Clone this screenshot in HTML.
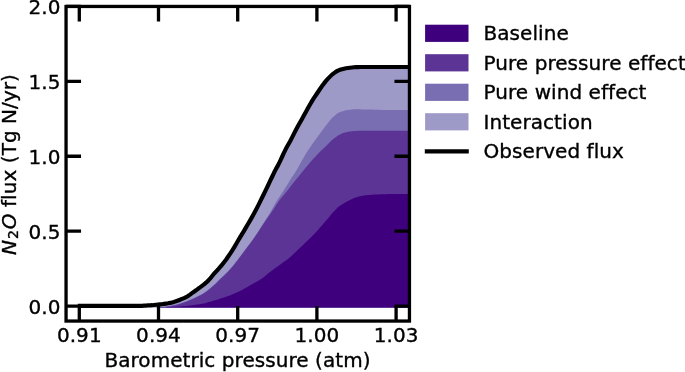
<!DOCTYPE html>
<html><head><meta charset="utf-8"><title>N2O flux</title>
<style>html,body{margin:0;padding:0;background:#fff}svg{display:block}text{font-variant-ligatures:none;font-family:"DejaVu Sans","Liberation Sans",sans-serif;font-size:20px;letter-spacing:0.06px;fill:#000;stroke:#000;stroke-width:0.35px}</style></head><body>
<svg width="685" height="372" viewBox="0 0 685 372">
<rect width="685" height="372" fill="#fff"/>
<defs><clipPath id="ax"><rect x="66.05" y="6.45" width="343.40" height="314.60"/></clipPath></defs>
<g clip-path="url(#ax)">
<path d="M150.0,307.5 L150.0,305.3 L152.0,305.2 L154.0,305.0 L156.0,304.8 L158.0,304.6 L160.0,304.4 L162.0,304.2 L164.0,303.9 L166.0,303.6 L168.0,303.3 L170.0,302.9 L172.0,302.4 L174.0,301.9 L176.0,301.2 L178.0,300.5 L180.0,299.7 L182.0,298.9 L184.0,298.1 L186.0,297.2 L188.0,296.0 L190.0,294.6 L192.0,293.1 L194.0,291.7 L196.0,290.3 L198.0,288.8 L200.0,287.4 L202.0,285.9 L204.0,284.4 L206.0,282.7 L208.0,280.9 L210.0,278.7 L212.0,276.2 L214.0,273.7 L216.0,271.6 L218.0,269.5 L220.0,267.2 L222.0,264.8 L224.0,262.3 L226.0,259.7 L228.0,256.8 L230.0,253.9 L232.0,250.8 L234.0,247.6 L236.0,244.2 L238.0,240.8 L240.0,237.4 L242.0,234.1 L244.0,230.8 L246.0,227.4 L248.0,224.0 L250.0,220.6 L252.0,217.1 L254.0,213.5 L256.0,209.8 L258.0,205.9 L260.0,201.8 L262.0,197.8 L264.0,193.8 L266.0,189.7 L268.0,185.5 L270.0,181.2 L272.0,177.0 L274.0,172.8 L276.0,168.9 L278.0,165.4 L280.0,161.3 L282.0,157.0 L284.0,152.6 L286.0,148.6 L288.0,145.0 L290.0,141.5 L292.0,137.6 L294.0,133.6 L296.0,129.8 L298.0,126.1 L300.0,122.5 L302.0,118.9 L304.0,115.3 L306.0,111.7 L308.0,108.1 L310.0,104.5 L312.0,101.1 L314.0,97.9 L316.0,95.0 L318.0,92.0 L320.0,89.0 L322.0,86.1 L324.0,83.4 L326.0,80.9 L328.0,78.6 L330.0,76.6 L332.0,74.6 L334.0,73.1 L336.0,71.7 L338.0,70.6 L340.0,69.8 L342.0,69.2 L344.0,68.7 L346.0,68.3 L348.0,68.0 L350.0,67.7 L352.0,67.5 L354.0,67.3 L356.0,67.1 L358.0,67.1 L360.0,67.0 L362.0,67.0 L364.0,67.0 L366.0,67.0 L368.0,67.0 L370.0,67.0 L372.0,67.0 L374.0,67.0 L376.0,67.0 L378.0,67.0 L380.0,67.0 L382.0,67.0 L384.0,67.0 L386.0,67.0 L388.0,67.0 L390.0,67.0 L392.0,67.0 L394.0,67.0 L396.0,67.0 L398.0,67.0 L400.0,67.0 L402.0,67.0 L404.0,67.0 L406.0,67.0 L408.0,67.0 L410.0,67.0 L412.0,67.0 L412.0,307.5 Z" fill="#9e9ac8"/>
<path d="M150.0,307.5 L150.0,307.5 L152.0,307.5 L154.0,307.4 L156.0,307.3 L158.0,307.2 L160.0,307.1 L162.0,306.9 L164.0,306.7 L166.0,306.4 L168.0,306.1 L170.0,305.8 L172.0,305.4 L174.0,305.0 L176.0,304.5 L178.0,303.9 L180.0,303.3 L182.0,302.7 L184.0,302.0 L186.0,301.3 L188.0,300.5 L190.0,299.6 L192.0,298.8 L194.0,297.9 L196.0,297.0 L198.0,296.0 L200.0,295.0 L202.0,293.9 L204.0,292.7 L206.0,291.3 L208.0,289.8 L210.0,288.2 L212.0,286.6 L214.0,284.8 L216.0,282.9 L218.0,280.8 L220.0,278.8 L222.0,277.0 L224.0,275.1 L226.0,273.1 L228.0,271.2 L230.0,269.0 L232.0,266.7 L234.0,264.3 L236.0,261.8 L238.0,259.2 L240.0,256.5 L242.0,253.7 L244.0,251.0 L246.0,248.4 L248.0,245.8 L250.0,243.2 L252.0,240.4 L254.0,237.6 L256.0,234.7 L258.0,231.7 L260.0,228.6 L262.0,225.5 L264.0,222.4 L266.0,219.2 L268.0,216.0 L270.0,212.7 L272.0,209.3 L274.0,205.7 L276.0,202.2 L278.0,199.1 L280.0,196.1 L282.0,193.1 L284.0,190.0 L286.0,186.7 L288.0,183.4 L290.0,180.2 L292.0,177.1 L294.0,174.2 L296.0,171.1 L298.0,167.8 L300.0,164.1 L302.0,160.5 L304.0,157.0 L306.0,153.6 L308.0,150.5 L310.0,147.5 L312.0,144.6 L314.0,141.8 L316.0,139.0 L318.0,136.2 L320.0,133.4 L322.0,130.7 L324.0,128.0 L326.0,125.4 L328.0,122.9 L330.0,120.3 L332.0,118.0 L334.0,116.2 L336.0,114.5 L338.0,113.1 L340.0,112.1 L342.0,111.4 L344.0,110.8 L346.0,110.3 L348.0,109.9 L350.0,109.7 L352.0,109.4 L354.0,109.3 L356.0,109.3 L358.0,109.3 L360.0,109.3 L362.0,109.4 L364.0,109.4 L366.0,109.4 L368.0,109.5 L370.0,109.6 L372.0,109.6 L374.0,109.7 L376.0,109.7 L378.0,109.8 L380.0,109.8 L382.0,109.9 L384.0,109.9 L386.0,109.9 L388.0,109.9 L390.0,110.0 L392.0,110.0 L394.0,110.0 L396.0,110.0 L398.0,110.0 L400.0,110.1 L402.0,110.1 L404.0,110.1 L406.0,110.1 L408.0,110.1 L410.0,110.1 L412.0,110.1 L412.0,307.5 Z" fill="#796eb2"/>
<path d="M150.0,307.5 L150.0,307.5 L152.0,307.5 L154.0,307.5 L156.0,307.4 L158.0,307.4 L160.0,307.3 L162.0,307.1 L164.0,307.0 L166.0,306.7 L168.0,306.5 L170.0,306.2 L172.0,305.8 L174.0,305.5 L176.0,305.0 L178.0,304.5 L180.0,303.9 L182.0,303.3 L184.0,302.6 L186.0,301.9 L188.0,301.1 L190.0,300.2 L192.0,299.4 L194.0,298.5 L196.0,297.6 L198.0,296.6 L200.0,295.6 L202.0,294.5 L204.0,293.3 L206.0,291.9 L208.0,290.4 L210.0,288.8 L212.0,287.1 L214.0,285.3 L216.0,283.5 L218.0,281.5 L220.0,279.5 L222.0,277.6 L224.0,275.7 L226.0,273.8 L228.0,271.8 L230.0,269.6 L232.0,267.3 L234.0,264.9 L236.0,262.3 L238.0,259.7 L240.0,257.1 L242.0,254.4 L244.0,251.7 L246.0,249.0 L248.0,246.3 L250.0,243.7 L252.0,241.0 L254.0,238.2 L256.0,235.3 L258.0,232.3 L260.0,229.2 L262.0,226.1 L264.0,223.0 L266.0,220.1 L268.0,217.2 L270.0,214.4 L272.0,211.5 L274.0,208.5 L276.0,205.3 L278.0,202.3 L280.0,199.6 L282.0,197.1 L284.0,194.7 L286.0,192.2 L288.0,189.7 L290.0,187.2 L292.0,184.6 L294.0,182.1 L296.0,179.6 L298.0,177.2 L300.0,174.7 L302.0,172.2 L304.0,169.7 L306.0,167.3 L308.0,164.9 L310.0,162.5 L312.0,160.2 L314.0,158.0 L316.0,155.9 L318.0,153.8 L320.0,151.8 L322.0,149.8 L324.0,148.0 L326.0,146.1 L328.0,144.0 L330.0,141.9 L332.0,140.0 L334.0,138.4 L336.0,136.9 L338.0,135.6 L340.0,134.5 L342.0,133.6 L344.0,132.8 L346.0,132.2 L348.0,131.7 L350.0,131.4 L352.0,131.2 L354.0,131.0 L356.0,130.9 L358.0,130.8 L360.0,130.8 L362.0,130.7 L364.0,130.7 L366.0,130.7 L368.0,130.7 L370.0,130.7 L372.0,130.7 L374.0,130.7 L376.0,130.7 L378.0,130.7 L380.0,130.7 L382.0,130.7 L384.0,130.7 L386.0,130.7 L388.0,130.7 L390.0,130.7 L392.0,130.7 L394.0,130.7 L396.0,130.7 L398.0,130.7 L400.0,130.7 L402.0,130.7 L404.0,130.7 L406.0,130.7 L408.0,130.7 L410.0,130.7 L412.0,130.7 L412.0,307.5 Z" fill="#5b3495"/>
<path d="M150.0,307.5 L150.0,307.5 L152.0,307.5 L154.0,307.5 L156.0,307.4 L158.0,307.4 L160.0,307.3 L162.0,307.3 L164.0,307.2 L166.0,307.2 L168.0,307.1 L170.0,307.0 L172.0,306.9 L174.0,306.8 L176.0,306.7 L178.0,306.5 L180.0,306.4 L182.0,306.3 L184.0,306.1 L186.0,306.0 L188.0,305.8 L190.0,305.6 L192.0,305.3 L194.0,305.1 L196.0,304.8 L198.0,304.5 L200.0,304.2 L202.0,303.8 L204.0,303.4 L206.0,302.9 L208.0,302.3 L210.0,301.8 L212.0,301.2 L214.0,300.6 L216.0,300.0 L218.0,299.4 L220.0,298.8 L222.0,298.1 L224.0,297.5 L226.0,296.8 L228.0,296.1 L230.0,295.4 L232.0,294.6 L234.0,293.7 L236.0,292.8 L238.0,291.9 L240.0,290.9 L242.0,289.9 L244.0,288.8 L246.0,287.7 L248.0,286.5 L250.0,285.4 L252.0,284.2 L254.0,283.2 L256.0,282.1 L258.0,281.0 L260.0,279.8 L262.0,278.5 L264.0,276.9 L266.0,275.3 L268.0,273.6 L270.0,272.0 L272.0,270.5 L274.0,269.0 L276.0,267.6 L278.0,266.2 L280.0,264.7 L282.0,263.2 L284.0,261.8 L286.0,260.4 L288.0,258.9 L290.0,257.3 L292.0,255.5 L294.0,253.6 L296.0,251.7 L298.0,249.7 L300.0,247.8 L302.0,245.9 L304.0,244.0 L306.0,242.1 L308.0,240.2 L310.0,238.2 L312.0,236.2 L314.0,234.2 L316.0,232.0 L318.0,229.9 L320.0,227.6 L322.0,225.4 L324.0,223.1 L326.0,220.8 L328.0,218.4 L330.0,216.0 L332.0,213.6 L334.0,211.4 L336.0,209.3 L338.0,207.3 L340.0,205.7 L342.0,204.4 L344.0,203.3 L346.0,202.1 L348.0,200.9 L350.0,199.9 L352.0,199.0 L354.0,198.1 L356.0,197.4 L358.0,196.8 L360.0,196.3 L362.0,195.9 L364.0,195.6 L366.0,195.3 L368.0,195.1 L370.0,194.9 L372.0,194.8 L374.0,194.6 L376.0,194.5 L378.0,194.4 L380.0,194.3 L382.0,194.3 L384.0,194.2 L386.0,194.2 L388.0,194.1 L390.0,194.1 L392.0,194.1 L394.0,194.0 L396.0,194.0 L398.0,194.0 L400.0,194.0 L402.0,193.9 L404.0,193.9 L406.0,193.9 L408.0,193.9 L410.0,193.9 L412.0,193.9 L412.0,307.5 Z" fill="#3f007d"/>
<path d="M79.9,305.9 L100.0,305.9 L102.0,305.9 L104.0,305.9 L106.0,305.9 L108.0,305.9 L110.0,305.9 L112.0,305.9 L114.0,305.9 L116.0,305.9 L118.0,305.9 L120.0,305.9 L122.0,305.9 L124.0,305.9 L126.0,305.9 L128.0,305.9 L130.0,305.9 L132.0,305.9 L134.0,305.9 L136.0,305.9 L138.0,305.8 L140.0,305.8 L142.0,305.8 L144.0,305.7 L146.0,305.6 L148.0,305.4 L150.0,305.3 L152.0,305.2 L154.0,305.0 L156.0,304.8 L158.0,304.6 L160.0,304.4 L162.0,304.2 L164.0,303.9 L166.0,303.6 L168.0,303.3 L170.0,302.9 L172.0,302.4 L174.0,301.9 L176.0,301.2 L178.0,300.5 L180.0,299.7 L182.0,298.9 L184.0,298.1 L186.0,297.2 L188.0,296.0 L190.0,294.6 L192.0,293.1 L194.0,291.7 L196.0,290.3 L198.0,288.8 L200.0,287.4 L202.0,285.9 L204.0,284.4 L206.0,282.7 L208.0,280.9 L210.0,278.7 L212.0,276.2 L214.0,273.7 L216.0,271.6 L218.0,269.5 L220.0,267.2 L222.0,264.8 L224.0,262.3 L226.0,259.7 L228.0,256.8 L230.0,253.9 L232.0,250.8 L234.0,247.6 L236.0,244.2 L238.0,240.8 L240.0,237.4 L242.0,234.1 L244.0,230.8 L246.0,227.4 L248.0,224.0 L250.0,220.6 L252.0,217.1 L254.0,213.5 L256.0,209.8 L258.0,205.9 L260.0,201.8 L262.0,197.8 L264.0,193.8 L266.0,189.7 L268.0,185.5 L270.0,181.2 L272.0,177.0 L274.0,172.8 L276.0,168.9 L278.0,165.4 L280.0,161.3 L282.0,157.0 L284.0,152.6 L286.0,148.6 L288.0,145.0 L290.0,141.5 L292.0,137.6 L294.0,133.6 L296.0,129.8 L298.0,126.1 L300.0,122.5 L302.0,118.9 L304.0,115.3 L306.0,111.7 L308.0,108.1 L310.0,104.5 L312.0,101.1 L314.0,97.9 L316.0,95.0 L318.0,92.0 L320.0,89.0 L322.0,86.1 L324.0,83.4 L326.0,80.9 L328.0,78.6 L330.0,76.6 L332.0,74.6 L334.0,73.1 L336.0,71.7 L338.0,70.6 L340.0,69.8 L342.0,69.2 L344.0,68.7 L346.0,68.3 L348.0,68.0 L350.0,67.7 L352.0,67.5 L354.0,67.3 L356.0,67.1 L358.0,67.1 L360.0,67.0 L362.0,67.0 L364.0,67.0 L366.0,67.0 L368.0,67.0 L370.0,67.0 L372.0,67.0 L374.0,67.0 L376.0,67.0 L378.0,67.0 L380.0,67.0 L382.0,67.0 L384.0,67.0 L386.0,67.0 L388.0,67.0 L390.0,67.0 L392.0,67.0 L394.0,67.0 L396.0,67.0 L398.0,67.0 L400.0,67.0 L402.0,67.0 L404.0,67.0 L406.0,67.0 L408.0,67.0 L410.0,67.0 L412.0,67.0" fill="none" stroke="#000" stroke-width="4.17" stroke-linejoin="round" stroke-linecap="square"/>
</g>
<g stroke="#000" stroke-width="3.30" fill="none">
<path d="M79.30,6.45 V21.45 M79.30,321.05 V306.05"/>
<path d="M158.50,6.45 V21.45 M158.50,321.05 V306.05"/>
<path d="M237.70,6.45 V21.45 M237.70,321.05 V306.05"/>
<path d="M316.90,6.45 V21.45 M316.90,321.05 V306.05"/>
<path d="M396.10,6.45 V21.45 M396.10,321.05 V306.05"/>
<path d="M66.05,306.05 H81.05 M409.45,306.05 H394.45"/>
<path d="M66.05,231.15 H81.05 M409.45,231.15 H394.45"/>
<path d="M66.05,156.25 H81.05 M409.45,156.25 H394.45"/>
<path d="M66.05,81.30 H81.05 M409.45,81.30 H394.45"/>
<path d="M66.05,6.45 H81.05 M409.45,6.45 H394.45"/>
<rect x="66.05" y="6.45" width="343.40" height="314.60" stroke-linejoin="miter"/>
</g>
<text x="79.3" y="342.1" text-anchor="middle">0.91</text>
<text x="158.5" y="342.1" text-anchor="middle">0.94</text>
<text x="237.7" y="342.1" text-anchor="middle">0.97</text>
<text x="316.9" y="342.1" text-anchor="middle">1.00</text>
<text x="396.1" y="342.1" text-anchor="middle">1.03</text>
<text x="60.5" y="314.1" text-anchor="end">0.0</text>
<text x="60.5" y="239.2" text-anchor="end">0.5</text>
<text x="60.5" y="164.2" text-anchor="end">1.0</text>
<text x="60.5" y="89.3" text-anchor="end">1.5</text>
<text x="60.5" y="14.4" text-anchor="end">2.0</text>
<text x="237.5" y="367.1" text-anchor="middle">Barometric pressure (atm)</text>
<text transform="translate(16.3,164.5) rotate(-90)" text-anchor="middle" letter-spacing="0.1"><tspan font-style="italic">N</tspan><tspan font-size="14px" dy="2.0" dx="0.9">2</tspan><tspan font-style="italic" dy="-2.0" dx="0.8">O</tspan> flux (Tg N/yr)</text>
<rect x="425.1" y="24.70" width="43.4" height="17.2" fill="#3f007d"/>
<rect x="425.1" y="54.20" width="43.4" height="17.2" fill="#5b3495"/>
<rect x="425.1" y="83.70" width="43.4" height="17.2" fill="#796eb2"/>
<rect x="425.1" y="113.20" width="43.4" height="17.2" fill="#9e9ac8"/>
<path d="M424.8,151.3 H468.8" stroke="#000" stroke-width="4.17"/>
<text x="483.5" y="40.4">Baseline</text>
<text x="483.5" y="69.9">Pure pressure effect</text>
<text x="483.5" y="99.3">Pure wind effect</text>
<text x="483.5" y="128.8">Interaction</text>
<text x="483.5" y="158.3">Observed flux</text>
</svg></body></html>
